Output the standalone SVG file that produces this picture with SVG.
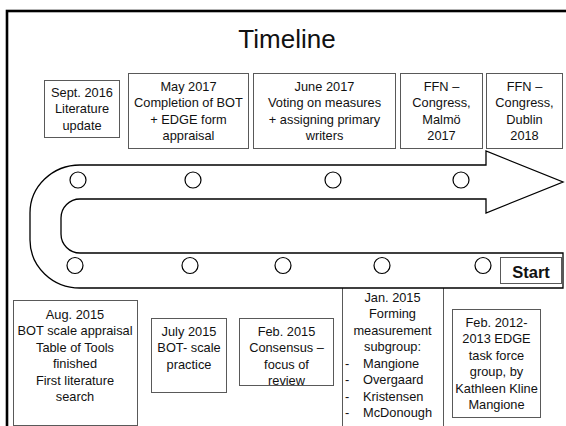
<svg xmlns="http://www.w3.org/2000/svg" width="566" height="426" viewBox="0 0 566 426">
<style>
.box{fill:#fff;stroke:#595959;stroke-width:1}
.t{font-family:"Liberation Sans",Arial,sans-serif;font-size:12.8px;fill:#111;text-anchor:middle}
.l{text-anchor:start}
.dot{fill:#fff;stroke:#000;stroke-width:1.2}
</style>
<rect width="566" height="426" fill="#fff"/>
<rect x="7" y="11" width="620" height="500" fill="none" stroke="#000" stroke-width="2.6"/>
<text x="287" y="48" style="font-family:'Liberation Sans',Arial,sans-serif;font-size:26px;fill:#111;text-anchor:middle">Timeline</text>

<g id="sept2016">
<rect class="box" x="44.5" y="80.5" width="75" height="57"/>
<text class="t" x="82" y="96.5">Sept. 2016</text>
<text class="t" x="82" y="113">Literature</text>
<text class="t" x="82" y="129.5">update</text>
</g>
<g id="may2017">
<rect class="box" x="128.5" y="73.5" width="120" height="75"/>
<text class="t" x="188.5" y="90.5">May 2017</text>
<text class="t" x="188.5" y="107">Completion of BOT</text>
<text class="t" x="188.5" y="123.5">+ EDGE form</text>
<text class="t" x="188.5" y="140">appraisal</text>
</g>
<g id="june2017">
<rect class="box" x="253.5" y="73.5" width="142" height="75"/>
<text class="t" x="324.5" y="90.5">June 2017</text>
<text class="t" x="324.5" y="107">Voting on measures</text>
<text class="t" x="324.5" y="123.5">+ assigning primary</text>
<text class="t" x="324.5" y="140">writers</text>
</g>
<g id="malmo">
<rect class="box" x="400.5" y="73.5" width="82" height="75"/>
<text class="t" x="441.5" y="90.5">FFN –</text>
<text class="t" x="441.5" y="107">Congress,</text>
<text class="t" x="441.5" y="123.5">Malmö</text>
<text class="t" x="441.5" y="140">2017</text>
</g>
<g id="dublin">
<rect class="box" x="486.5" y="73.5" width="76" height="75"/>
<text class="t" x="524.5" y="90.5">FFN –</text>
<text class="t" x="524.5" y="107">Congress,</text>
<text class="t" x="524.5" y="123.5">Dublin</text>
<text class="t" x="524.5" y="140">2018</text>
</g>

<g id="jan2015">
<rect class="box" x="342.5" y="270" width="101" height="200"/>
<text class="t" x="392.5" y="301.5">Jan. 2015</text>
<text class="t" x="392.5" y="318">Forming</text>
<text class="t" x="392.5" y="334.5">measurement</text>
<text class="t" x="392.5" y="351">subgroup:</text>
<text class="t l" x="345" y="367.5">-</text><text class="t l" x="363" y="367.5">Mangione</text>
<text class="t l" x="345" y="384">-</text><text class="t l" x="363" y="384">Overgaard</text>
<text class="t l" x="345" y="400.5">-</text><text class="t l" x="363" y="400.5">Kristensen</text>
<text class="t l" x="345" y="417">-</text><text class="t l" x="363" y="417">McDonough</text>
</g>

<g id="connectors">
<path id="timeline-arrow" d="M80,165 L486,165 L486,151 L563,182 L486,213 L486,199 L80,199 A19,19 0 0 0 61,218 L61,234 A19,19 0 0 0 80,253 L563,253 L563,288 L80,288 A50,48 0 0 1 30,240 L30,213 A50,48 0 0 1 80,165 Z" fill="#fff" stroke="#000" stroke-width="1.3" stroke-linejoin="miter"/>
<circle class="dot" cx="78" cy="180" r="8"/>
<circle class="dot" cx="193" cy="180" r="8"/>
<circle class="dot" cx="333" cy="180" r="8"/>
<circle class="dot" cx="461" cy="180" r="8"/>
<circle class="dot" cx="75" cy="265.5" r="8"/>
<circle class="dot" cx="190" cy="265.5" r="8"/>
<circle class="dot" cx="283" cy="265.5" r="8"/>
<circle class="dot" cx="382" cy="265.5" r="8"/>
<circle class="dot" cx="483" cy="265.5" r="8"/>
</g>

<g id="start">
<rect class="box" x="500.5" y="257.5" width="61" height="26"/>
<text x="531" y="278" style="font-family:'Liberation Sans',Arial,sans-serif;font-size:16.5px;font-weight:bold;fill:#111;text-anchor:middle">Start</text>
</g>

<g id="aug2015">
<rect class="box" x="13.5" y="300.5" width="124" height="125"/>
<text class="t" x="75" y="318.5">Aug. 2015</text>
<text class="t" x="75" y="335">BOT scale appraisal</text>
<text class="t" x="75" y="351.5">Table of Tools</text>
<text class="t" x="75" y="368">finished</text>
<text class="t" x="75" y="384.5">First literature</text>
<text class="t" x="75" y="401">search</text>
</g>
<g id="july2015">
<rect class="box" x="151.5" y="318.5" width="75" height="74"/>
<text class="t" x="189" y="335.5">July 2015</text>
<text class="t" x="189" y="352">BOT- scale</text>
<text class="t" x="189" y="368.5">practice</text>
</g>
<g id="feb2015">
<rect class="box" x="239.5" y="318.5" width="94" height="67"/>
<text class="t" x="286.5" y="335.5">Feb. 2015</text>
<text class="t" x="286.5" y="352">Consensus –</text>
<text class="t" x="286.5" y="368.5">focus of</text>
<text class="t" x="286.5" y="385">review</text>
</g>
<g id="feb2012">
<rect class="box" x="452.5" y="309.5" width="88" height="108"/>
<text class="t" x="496.5" y="326.5">Feb. 2012-</text>
<text class="t" x="496.5" y="343">2013 EDGE</text>
<text class="t" x="496.5" y="359.5">task force</text>
<text class="t" x="496.5" y="376">group, by</text>
<text class="t" x="496.5" y="392.5">Kathleen Kline</text>
<text class="t" x="496.5" y="409">Mangione</text>
</g>
</svg>
